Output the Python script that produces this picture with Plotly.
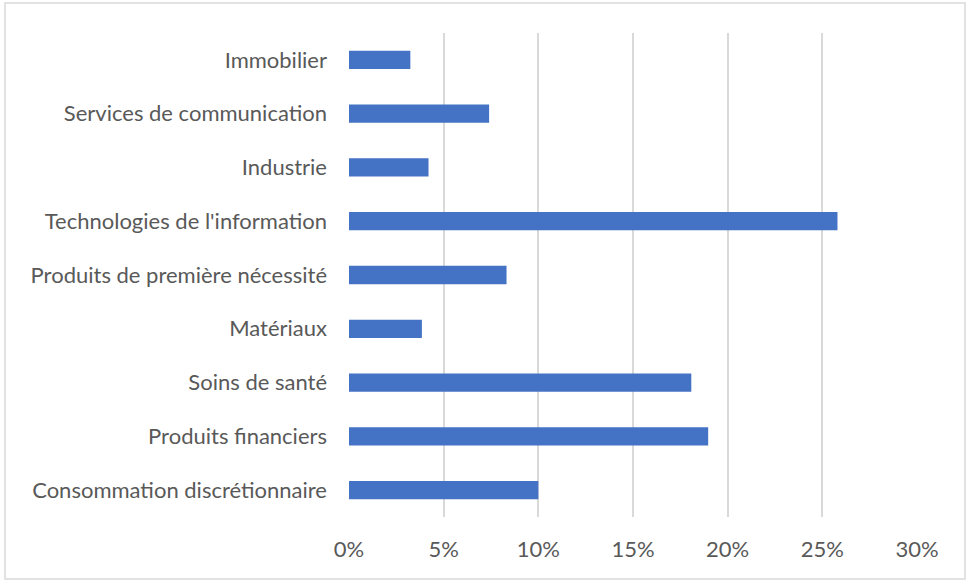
import plotly.graph_objects as go

categories = [
    "Immobilier",
    "Services de communication",
    "Industrie",
    "Technologies de l'information",
    "Produits de première nécessité",
    "Matériaux",
    "Soins de santé",
    "Produits financiers",
    "Consommation discrétionnaire",
]
values = [3.24, 7.4, 4.2, 25.8, 8.32, 3.85, 18.08, 18.97, 10.0]
tick_vals = [0, 5, 10, 15, 20, 25, 30]
tick_text = ["0%", "5%", "10%", "15%", "20%", "25%", "30%"]

FONT = "Lato"
TXT = "#595959"
GRID = "#D9D9D9"

fig = go.Figure(
    go.Bar(
        x=values,
        y=categories,
        orientation="h",
        marker=dict(color="#4472C4", line=dict(width=0)),
        width=0.34,
        hoverinfo="x+y",
    )
)

fig.update_layout(
    width=969,
    height=585,
    margin=dict(l=349, r=52, t=33, b=68, autoexpand=False),
    paper_bgcolor="white",
    plot_bgcolor="white",
    font=dict(family=FONT, size=22, color=TXT),
    showlegend=False,
    xaxis=dict(
        range=[0, 30],
        tickvals=tick_vals,
        ticktext=tick_text,
        showgrid=True,
        gridcolor=GRID,
        gridwidth=1.5,
        zeroline=False,
        showline=False,
        ticks="",
        ticklabelstandoff=17,
        fixedrange=True,
    ),
    yaxis=dict(
        autorange="reversed",
        showgrid=False,
        showline=False,
        zeroline=False,
        ticks="",
        ticklabelstandoff=21,
        fixedrange=True,
    ),
    shapes=[
        dict(
            type="rect",
            xref="paper",
            yref="paper",
            x0=(5 - 349) / 568,
            x1=(965 - 349) / 568,
            y0=(517 - 579) / 484,
            y1=(517 - 3) / 484,
            line=dict(color=GRID, width=1.5),
            fillcolor="rgba(0,0,0,0)",
            layer="below",
        )
    ],
)

fig.write_html(
    "out.html",
    config={"displayModeBar": False},
    post_script="document.body.style.margin='0';document.body.style.padding='0';",
)
